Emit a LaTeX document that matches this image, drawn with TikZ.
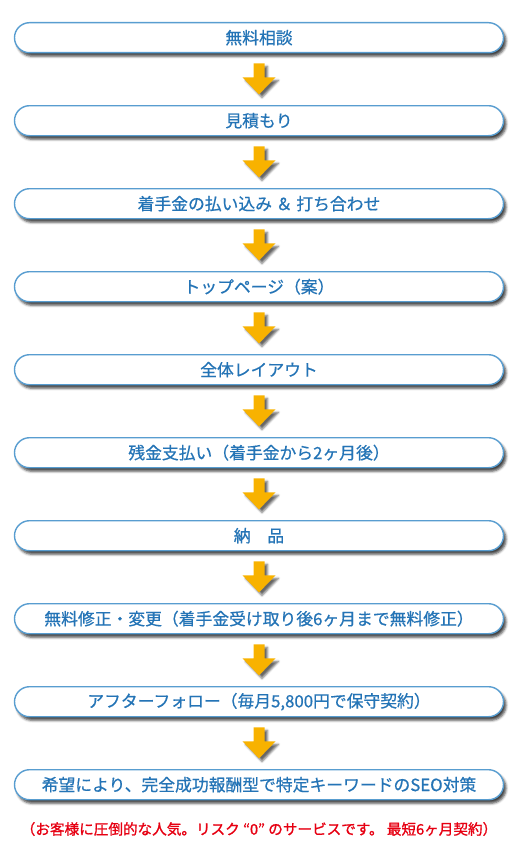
\documentclass[tikz,border=0pt]{standalone}
\usepackage{fontspec}
\setmainfont{Noto Sans CJK JP}
\newfontfamily\boxfont[FakeBold=0.6]{Noto Sans CJK JP}
\newfontfamily\notefont[FakeBold=1.2]{Noto Sans CJK JP}
\usetikzlibrary{calc,shadows.blur}
\definecolor{boxline}{RGB}{88,157,208}
\definecolor{boxtext}{RGB}{36,116,182}
\definecolor{arrowc}{RGB}{248,178,0}
\definecolor{notered}{RGB}{230,0,18}
\tikzset{
  stepbox/.style={draw=boxline, line width=1.4pt, fill=white, rounded corners=15pt,
    minimum width=489pt, minimum height=30pt, inner sep=0pt, text=boxtext,
    font=\boxfont\fontsize{16.8}{16.8}\selectfont,
    blur shadow={shadow xshift=2.5pt, shadow yshift=-3.5pt, shadow blur radius=2.5pt, shadow opacity=75}},
  flowarrow/.style={fill=arrowc,
    blur shadow={shadow xshift=3pt, shadow yshift=-3pt, shadow blur radius=2pt, shadow opacity=60}},
  notetext/.style={text=notered, font=\notefont\fontsize{14.6}{14.6}\selectfont, inner sep=0pt}
}
\begin{document}
\begin{tikzpicture}[x=1pt,y=-1pt]
\useasboundingbox (0,0) rectangle (519,851);
\node[stepbox] (b1) at (259,37.7) {無料相談};
\node[stepbox] (b2) at (259,120.7) {見積もり};
\node[stepbox] (b3) at (259,203.7) {着手金の払い込み ＆ 打ち合わせ};
\node[stepbox] (b4) at (259,286.7) {トップページ（案）};
\node[stepbox] (b5) at (259,369.7) {全体レイアウト};
\node[stepbox] (b6) at (259,452.7) {残金支払い（着手金から2ヶ月後）};
\node[stepbox] (b7) at (259,535.7) {納　品};
\node[stepbox] (b8) at (259,618.7) {無料修正・変更（着手金受け取り後6ヶ月まで無料修正）};
\node[stepbox] (b9) at (259,701.7) {アフターフォロー（毎月5,800円で保守契約）};
\node[stepbox] (b10) at (259,784.7) {希望により、完全成功報酬型で特定キーワードのSEO対策};
\node[notetext] (note) at (259,829) {（お客様に圧倒的な人気。リスク “0” のサービスです。 最短6ヶ月契約）};
\foreach \i in {1,...,9}{
  \path[flowarrow] ($(b\i.south)+(-5.5,10)$) -- ($(b\i.south)+(5.5,10)$)
    -- ($(b\i.south)+(5.5,24)$) -- ($(b\i.south)+(16.5,24)$)
    -- ($(b\i.south)+(0,41)$) -- ($(b\i.south)+(-16.5,24)$)
    -- ($(b\i.south)+(-5.5,24)$) -- cycle;
}
\end{tikzpicture}
\end{document}
